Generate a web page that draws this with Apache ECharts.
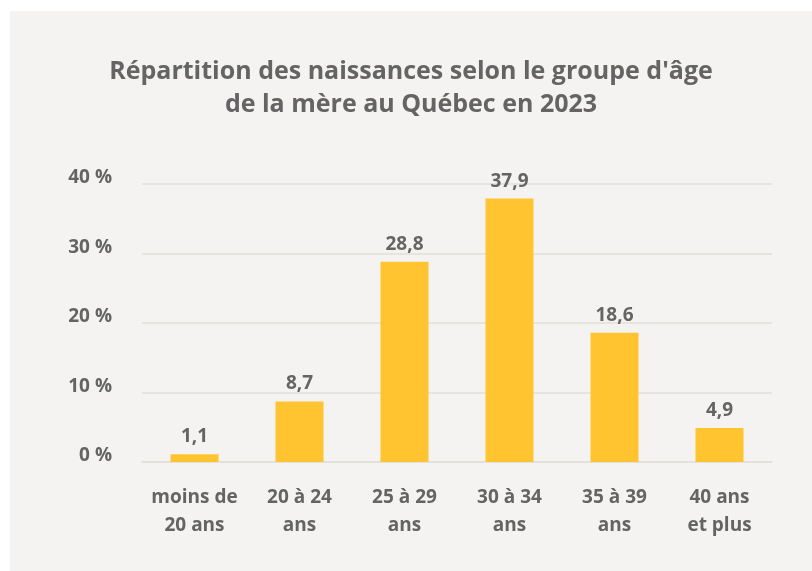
<!DOCTYPE html>
<html>
<head>
<meta charset="utf-8">
<script src="https://cdn.jsdelivr.net/npm/echarts@6/dist/echarts.min.js"></script>
<style>
  html, body { margin: 0; padding: 0; background: #ffffff; }
  #chart { position: absolute; left: 10px; top: 11px; width: 802px; height: 560px; }
</style>
</head>
<body>
<div id="chart"></div>
<script>
// Age groups of the mother
const categories = ['moins de\n20 ans', '20 à 24\nans', '25 à 29\nans', '30 à 34\nans', '35 à 39\nans', '40 ans\net plus'];
// Share of births (%)
const shares = [1.1, 8.7, 28.8, 37.9, 18.6, 4.9];
// Y axis ticks
const yTicks = [0, 10, 20, 30, 40];

const textColor = '#646464';
const fontFamily = '"Open Sans", "Noto Sans", sans-serif';

const chart = echarts.init(document.getElementById('chart'));
chart.setOption({
  backgroundColor: '#f4f3f1',
  animation: false,
  title: {
    text: "Répartition des naissances selon le groupe d'âge\nde la mère au Québec en 2023",
    left: 'center',
    top: 39,
    textStyle: {
      color: textColor,
      fontFamily: fontFamily,
      fontWeight: 'bold',
      fontSize: 25,
      lineHeight: 33
    }
  },
  grid: { left: 132, right: 40, top: 173, bottom: 109, containLabel: false },
  xAxis: {
    type: 'category',
    data: categories,
    axisTick: { show: false },
    axisLine: { show: true, lineStyle: { color: '#e2dfd8', width: 1.5 } },
    axisLabel: {
      color: textColor,
      fontFamily: fontFamily,
      fontWeight: 'bold',
      fontSize: 19,
      lineHeight: 28,
      margin: 22,
      interval: 0
    }
  },
  yAxis: {
    type: 'value',
    min: yTicks[0],
    max: yTicks[yTicks.length - 1],
    interval: 10,
    axisLine: { show: false },
    axisTick: { show: false },
    splitLine: { lineStyle: { color: '#e2dfd8', width: 1.5 } },
    axisLabel: {
      color: textColor,
      fontFamily: fontFamily,
      fontWeight: 'bold',
      fontSize: 19,
      margin: 30,
      verticalAlign: 'bottom',
      lineHeight: 12,
      formatter: '{value} %'
    }
  },
  series: [{
    type: 'bar',
    data: shares,
    barWidth: 48,
    itemStyle: { color: '#ffc430' },
    label: {
      show: true,
      position: 'top',
      distance: 8,
      color: textColor,
      fontFamily: fontFamily,
      fontWeight: 'bold',
      fontSize: 19,
      formatter: p => String(p.value).replace('.', ',')
    }
  }]
});
</script>
</body>
</html>
